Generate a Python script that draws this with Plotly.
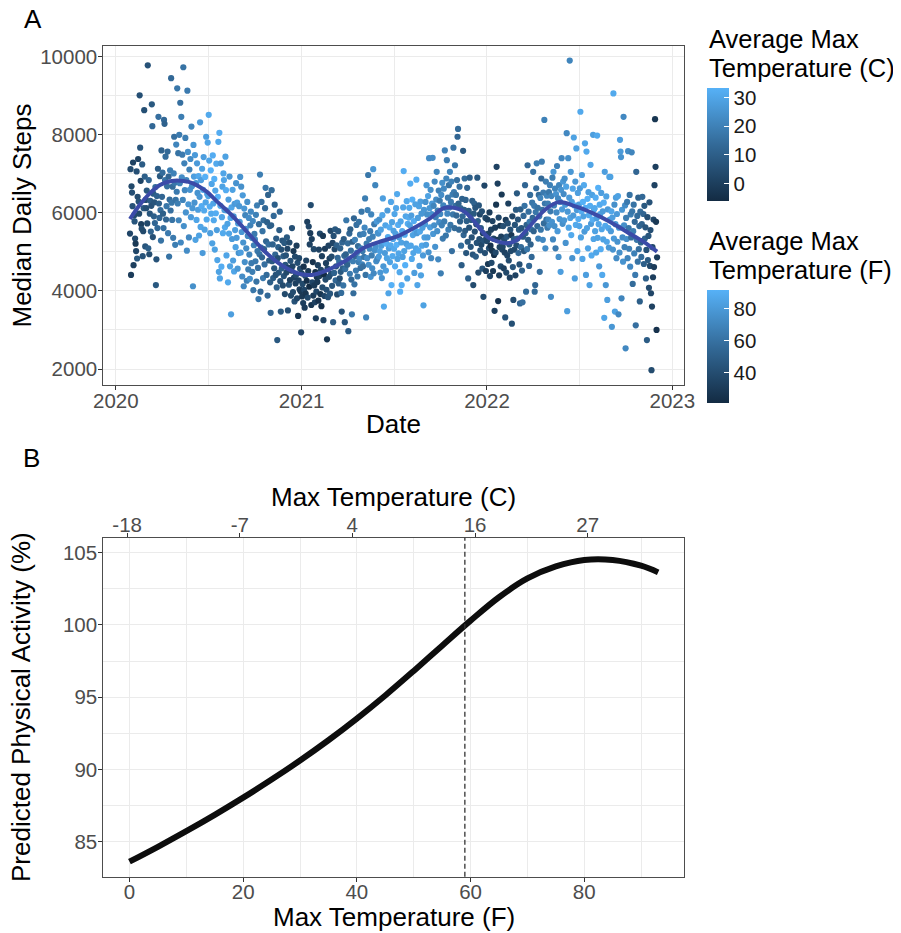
import pandas as pd
import plotly.graph_objects as go

# ---------------- Panel A data: daily median steps (in tens of steps) and max temp (C) ----------------
segment_starts = ["2020-01-29", "2020-03-01", "2020-04-01", "2020-05-01", "2020-06-01", "2020-07-01",
                  "2020-08-01", "2020-09-01", "2020-10-01", "2020-11-01", "2020-12-01", "2021-01-01",
                  "2021-02-01", "2021-03-01", "2021-04-01", "2021-05-01", "2021-06-01", "2021-07-01",
                  "2021-08-01", "2021-09-01", "2021-10-01", "2021-11-01", "2021-12-01", "2022-01-01",
                  "2022-02-01", "2022-03-01", "2022-04-01", "2022-05-01", "2022-06-01", "2022-07-01",
                  "2022-08-01", "2022-09-01", "2022-10-01", "2022-11-01"]

steps_tens = [
    "547 712 441 668 652 617 729 466 593 578 534 521 502 706 483 641 738 629 598 901 767 682 571 559 724 489 553 612 863 693 514 633",
    "612 657 573 978 509 684 494 598 631 552 618 878 822 538 649 591 627 574 666 415 481 643 561 713 846 624 587 694 607 529 760",
    "641 703 598 561 838 828 684 744 583 617 668 757 548 693 488 634 709 606 945 626 582 667 536 701 795 677 518 633 775 654",
    "919 624 753 581 800 676 882 524 846 691 749 633 973 566 727 658 792 601 684 503 913 756 622 537 711 659 738 589 821 668 612",
    "412 774 693 626 748 531 676 582 727 651 608 694 542 641 832 564 684 617 713 497 659 743 606 557 692 627 795 583 648 780",
    "643 851 734 616 548 709 598 674 522 747 624 581 687 506 657 599 726 556 479 641 782 449 805 432 618 727 462 589 667 548 701",
    "684 607 563 744 658 491 606 572 422 634 547 693 463 587 340 614 533 659 478 591 450 623 556 512 676 536 626 457 573 497 617",
    "577 692 498 667 551 437 645 524 412 611 474 594 559 509 426 628 541 455 587 493 431 568 603 471 536 449 579 402 517 546",
    "532 476 595 424 619 502 459 379 571 494 698 398 511 628 486 553 433 581 507 468 612 664 527 441 576 388 646 519 478 566 422",
    "344 568 658 476 519 433 592 458 621 493 441 534 409 274 484 512 447 556 603 425 347 506 458 529 414 489 438 523 392 467",
    "491 447 537 508 350 459 416 524 428 477 388 452 561 463 397 502 434 373 488 419 441 516 381 472 336 427 484 404 457 399 294",
    "445 386 418 369 462 403 357 439 393 478 426 577 383 451 565 411 519 548 620 364 533 422 474 388 507 414 371 448 330 398 435",
    "423 466 375 506 438 547 392 454 361 489 409 541 325 442 387 508 429 471 403 276 457 384 516 436 483 393 554 444",
    "488 413 523 320 541 446 507 558 427 463 517 391 485 553 419 474 432 509 449 395 347 524 458 414 533 490 320 456 494 581 471",
    "467 522 297 481 547 444 558 503 429 340 526 476 394 586 417 531 489 452 569 498 437 515 474 577 483 544 459 509 603 468",
    "502 463 546 487 562 637 441 332 521 484 607 697 467 533 508 553 436 596 491 458 539 712 445 571 504 671 513 476 578 482 549",
    "547 488 583 502 447 557 516 433 594 637 463 360 524 497 568 452 521 484 606 538 394 509 563 474 517 628 415 576 489 533",
    "554 508 597 463 546 612 518 648 482 569 496 537 448 398 578 524 415 553 487 614 707 502 544 466 591 521 630 432 572 514 588",
    "613 568 675 516 593 482 634 543 497 579 446 557 622 509 685 548 415 587 503 617 464 552 629 440 598 516 562 491 363 608 537",
    "571 628 518 671 596 537 643 499 740 612 563 659 484 597 624 741 546 618 568 680 513 589 634 705 553 606 481 657 576 631",
    "597 445 646 568 677 534 619 662 578 760 613 542 688 735 598 639 557 671 614 705 569 628 680 502 647 596 767 653 561 722 618",
    "646 593 684 795 815 624 557 667 578 612 516 466 636 591 759 543 608 688 554 633 497 579 664 526 432 605 562 690 594 513",
    "582 537 631 493 415 598 624 552 613 488 571 523 690 579 447 619 533 596 504 561 518 604 457 548 385 529 670 497 587 451 536",
    "528 583 469 547 509 601 438 516 557 472 503 579 451 534 492 349 562 498 621 718 531 675 374 588 440 512 567 463 539 647 506",
    "513 566 458 531 498 332 582 447 539 491 573 624 478 519 434 557 502 543 316 591 461 377 533 506 569 440 608 517",
    "650 534 583 497 557 468 368 609 512 561 452 371 539 592 502 618 671 548 398 569 507 722 531 603 464 577 646 519 558 487 626",
    "587 705 553 618 398 415 602 663 727 566 613 534 646 591 449 638 557 688 731 608 531 652 573 838 624 509 680 583 644 562",
    "624 583 653 568 671 604 385 643 577 690 532 705 619 566 662 509 648 601 720 553 637 487 671 584 628 449 659 740 609 572 680",
    "648 581 688 621 523 667 804 348 603 740 562 639 990 587 705 543 628 484 662 593 793 619 432 680 569 765 607 502 651 584",
    "621 566 663 859 537 604 697 482 628 591 671 552 778 613 441 757 561 636 509 653 594 415 618 723 572 491 646 583 800 533 609",
    "612 553 639 498 586 798 536 664 571 463 621 597 507 651 558 441 604 532 626 331 705 567 415 642 526 377 609 561 511 692 583",
    "692 553 604 308 588 506 906 534 621 347 571 639 484 597 526 643 340 562 498 787 757 743 381 608 537 475 846 568 512 619",
    "253 587 533 628 484 758 561 508 646 462 596 537 755 604 418 553 621 496 577 441 312 705 531 592 475 639 507 566 373 603 524",
    "487 571 641 528 597 469 618 534 563 432 505 274 589 479 541 408 627 464 556 394 197 360 512 435 583 461 671 840 718 577 300 486",
]

temps_c = [
    "2 4 -1 3 5 6 1 0 4 7 3 -2 2 5 8 4 1 6 3 5 7 2 0 4 9 6 3 8 5 10 7 4",
    "5 8 3 6 10 12 4 7 9 11 6 8 13 5 9 10 7 12 14 8 6 11 13 9 15 10 12 8 14 16 11",
    "12 14 10 15 13 11 16 14 12 17 15 13 18 12 16 14 19 15 13 17 16 14 18 20 15 17 19 16 21 18",
    "17 19 16 21 18 20 15 22 19 23 18 21 16 24 20 22 19 25 21 23 18 24 26 22 20 25 23 27 21 24 26",
    "24 26 28 25 27 29 26 30 27 25 28 31 29 26 27 30 28 32 29 27 30 28 31 29 33 30 28 31 29 30",
    "29 31 30 32 28 33 31 30 29 32 30 31 33 29 30 32 31 28 30 33 31 29 32 30 31 28 32 30 29 31 30",
    "30 28 31 29 32 30 27 29 31 28 30 26 29 31 28 30 27 29 28 26 30 27 28 29 25 27 28 26 27 25 26",
    "27 25 28 24 26 23 27 25 22 26 24 21 25 23 20 24 22 19 23 21 24 20 22 18 21 19 22 17 20 18",
    "21 18 20 16 19 17 15 18 14 16 19 13 17 15 12 16 18 14 11 15 13 17 12 14 10 13 11 15 9 12 10",
    "12 10 14 8 11 9 13 7 10 12 6 9 11 8 5 10 7 9 12 6 8 5 10 7 4 9 6 8 3 7",
    "6 3 8 2 5 1 7 4 0 6 3 -1 5 2 4 -2 1 6 3 0 4 -1 2 5 -3 1 3 0 4 -2 2",
    "1 -2 3 0 -4 2 -1 4 -3 1 -5 0 3 -2 2 -6 1 -1 4 -3 0 2 -4 -1 3 -2 1 -5 0 2 -3",
    "-2 0 -4 1 -1 3 -3 2 -5 0 4 -2 1 -6 2 -1 3 0 5 -3 2 6 1 4 0 7 3 5",
    "4 7 2 9 5 11 3 8 12 6 10 4 13 7 9 15 5 11 8 14 6 12 10 16 9 13 7 15 11 17 12",
    "11 14 9 16 12 18 10 15 13 17 11 19 14 12 16 20 13 18 15 21 17 14 19 16 22 18 15 20 17 21",
    "18 15 20 17 22 19 16 21 18 23 20 17 24 19 22 18 25 21 19 23 20 26 22 18 24 21 25 23 27 22 24",
    "25 27 24 28 26 29 27 25 30 28 26 31 29 27 30 28 32 29 27 31 30 28 32 29 31 30 33 29 31 30",
    "29 31 30 32 28 30 33 31 29 32 30 28 31 33 30 29 32 31 28 30 32 29 31 33 30 28 31 29 32 30 31",
    "31 29 32 30 28 31 33 29 30 32 28 31 29 30 32 27 30 28 31 29 27 30 28 29 26 30 28 27 29 26 28",
    "27 25 28 26 24 27 29 25 23 26 28 24 22 25 27 23 26 21 24 22 25 20 23 21 24 19 22 20 23 18",
    "22 19 23 20 24 18 21 22 19 20 23 17 21 19 22 18 20 16 19 21 17 18 20 15 19 17 16 18 14 17 15",
    "16 13 15 12 14 11 13 15 10 12 14 9 11 13 8 12 10 14 9 11 7 10 12 8 11 9 6 10 8 7",
    "9 6 10 7 4 8 11 5 7 9 3 6 8 10 4 7 5 2 6 8 3 5 7 1 4 6 2 5 3 0 4",
    "3 0 -2 1 4 -1 2 -4 0 3 -3 1 -2 2 -5 0 -1 3 -3 1 -2 0 -4 2 -1 1 -3 3 0 -2 2",
    "2 5 0 4 1 6 -1 3 7 2 5 0 4 8 1 6 3 -2 5 2 7 4 9 3 6 1 8 5",
    "8 11 6 13 9 5 12 10 14 7 11 15 9 13 8 16 12 10 14 11 17 13 9 15 12 18 14 11 16 13 17",
    "13 16 11 18 14 12 17 15 19 13 16 20 14 18 15 21 17 13 19 16 22 18 14 20 17 23 19 16 21 18",
    "19 22 17 24 20 18 23 21 25 19 22 26 20 24 21 18 25 23 20 27 22 24 21 26 23 28 25 22 27 24 26",
    "23 26 24 27 25 29 22 28 26 24 30 27 21 29 26 31 28 25 30 27 29 32 28 26 31 29 27 30 28 32",
    "28 30 27 31 29 32 28 30 33 29 31 27 30 32 28 31 29 33 30 28 31 29 32 30 27 31 29 32 28 30 29",
    "31 29 32 30 28 31 29 33 30 27 31 29 32 28 30 31 27 29 32 30 28 31 26 29 30 28 27 30 26 29 27",
    "29 27 30 26 28 25 31 27 24 29 26 28 23 27 25 29 22 26 24 28 27 25 21 26 23 25 22 24 20 23",
    "22 19 24 18 21 23 17 20 16 22 19 15 21 17 14 19 16 20 13 18 15 12 17 14 16 11 15 13 10 14 12",
    "14 11 13 9 12 10 8 11 7 10 6 9 5 8 7 4 6 3 5 2 4 1 3 0 2 -1 1 -3 0 -2 -4 -1",
]

# Smoothed trend
smooth_dates = ["2020-01-29", "2020-02-17", "2020-03-08", "2020-03-28", "2020-04-20", "2020-05-13",
                "2020-06-01", "2020-06-28", "2020-07-16", "2020-08-16", "2020-09-18", "2020-10-21",
                "2020-11-22", "2020-12-25", "2021-01-21", "2021-02-22", "2021-03-31", "2021-05-02",
                "2021-06-04", "2021-07-07", "2021-08-09", "2021-09-11", "2021-10-10", "2021-11-12",
                "2021-12-02", "2021-12-15", "2022-01-04", "2022-01-23", "2022-02-09", "2022-03-01",
                "2022-03-17", "2022-04-06", "2022-04-25", "2022-05-22", "2022-06-26", "2022-07-29",
                "2022-08-31", "2022-10-03", "2022-11-05", "2022-12-02"]
smooth_steps = [5843, 6200, 6500, 6714, 6816, 6816, 6757, 6543, 6320, 5945, 5477, 5005,
                4664, 4451, 4408, 4540, 4793, 5093, 5262, 5390, 5604, 5860, 6130, 6073,
                5860, 5646, 5364, 5262, 5220, 5305, 5518, 5817, 6073, 6275, 6158, 5988,
                5774, 5518, 5262, 5005]

year_ticks = ["2020-01-01", "2021-01-01", "2022-01-01", "2023-01-01"]
year_labels = ["2020", "2021", "2022", "2023"]
steps_ticks = [2000, 4000, 6000, 8000, 10000]
steps_labels = ["2000", "4000", "6000", "8000", "10000"]

# ---------------- Panel B data ----------------
temp_f = [0, 5, 10, 15, 20, 25, 30, 35, 40, 45, 50, 55, 60, 65, 70, 75, 80, 85, 90, 93]
pred_pct = [83.62, 84.65, 85.73, 86.86, 88.05, 89.30, 90.62, 92.02, 93.52, 95.12, 96.82, 98.57,
            100.3, 101.92, 103.22, 104.05, 104.5, 104.5, 104.1, 103.64]
ref_temp_f = 59
f_ticks = [0, 20, 40, 60, 80]
c_ticks = [-18, -7, 4, 16, 27]
pct_ticks = [85, 90, 95, 100, 105]

# ---------------- build daily series ----------------
dates, steps, temps = [], [], []
for start, s, t in zip(segment_starts, steps_tens, temps_c):
    sv = [int(v) * 10 for v in s.split()]
    tv = [float(v) for v in t.split()]
    n = min(len(sv), len(tv))
    dates += list(pd.date_range(start, periods=n, freq="D"))
    steps += sv[:n]
    temps += tv[:n]
temps_f = [c * 9 / 5 + 32 for c in temps]

W, H = 901, 933
OFF = 8  # the page body margin shifts the figure by 8 px
FONT = "Liberation Sans, Arial, sans-serif"
GRID = "#EBEBEB"
BORDER = "#4D4D4D"
TICKC = "#4D4D4D"
scale = [[0.0, "#132B43"], [0.5, "#336A98"], [1.0, "#56B1F7"]]


def px_x(p):
    return (p - OFF) / W


def px_y(p):
    return 1 - (p - OFF) / H


fig = go.Figure()

cb_common = dict(thickness=22, lenmode="pixels", len=113, x=px_x(706.7), xanchor="left",
                 yanchor="top", xpad=0, ypad=0, outlinewidth=0, ticks="inside", ticklen=5,
                 tickcolor="white", tickwidth=1,
                 tickfont=dict(size=20.5, color="#1A1A1A", family=FONT))

fig.add_trace(go.Scatter(
    x=dates, y=steps, mode="markers", xaxis="x", yaxis="y",
    marker=dict(size=6.2, color=temps, colorscale=scale, cmin=-6.3, cmax=33.3,
                line=dict(width=0), showscale=True,
                colorbar=dict(**cb_common, y=px_y(88.3), tickvals=[0, 10, 20, 30])),
    showlegend=False, hoverinfo="skip"))

fig.add_trace(go.Scatter(
    x=dates, y=steps, mode="markers", xaxis="x", yaxis="y",
    marker=dict(size=6.2, color=temps_f, colorscale=scale, cmin=20.7, cmax=91.9,
                opacity=0, showscale=True,
                colorbar=dict(**cb_common, y=px_y(290), tickvals=[40, 60, 80])),
    showlegend=False, hoverinfo="skip"))

fig.add_trace(go.Scatter(
    x=smooth_dates, y=smooth_steps, mode="lines", xaxis="x", yaxis="y",
    line=dict(color="#3B4BA8", width=4, shape="spline", smoothing=1.0),
    showlegend=False, hoverinfo="skip"))

fig.add_trace(go.Scatter(
    x=temp_f, y=pred_pct, mode="lines", xaxis="x2", yaxis="y2",
    line=dict(color="#0D0D0D", width=6, shape="spline"),
    showlegend=False, hoverinfo="skip"))

fig.add_trace(go.Scatter(
    x=temp_f, y=pred_pct, mode="lines", xaxis="x3", yaxis="y2",
    line=dict(color="rgba(0,0,0,0)", width=1),
    showlegend=False, hoverinfo="skip"))

dom_x = [px_x(103.3), px_x(684.3)]
axis_common = dict(showline=True, linecolor=BORDER, linewidth=1, mirror=True, automargin=False,
                   ticks="outside", ticklen=4, tickcolor="#333333", tickwidth=1,
                   tickfont=dict(size=20.5, color=TICKC, family=FONT),
                   showgrid=True, gridcolor=GRID, gridwidth=1.2, zeroline=False)

fig.update_layout(
    width=W, height=H, autosize=False,
    margin=dict(l=0, r=0, t=0, b=0, autoexpand=False),
    paper_bgcolor="white", plot_bgcolor="white",
    font=dict(family=FONT, color="#000000"),
    xaxis=dict(**axis_common, domain=dom_x, anchor="y", type="date",
               range=["2019-12-07 10:00", "2023-01-24 15:00"],
               tickvals=year_ticks, ticktext=year_labels, ticklabelstandoff=-7,
               minor=dict(tickvals=["2020-07-02", "2021-07-02", "2022-07-02"], showgrid=True,
                          gridcolor=GRID, gridwidth=0.6, ticks="")),
    yaxis=dict(**axis_common, domain=[px_y(385), px_y(45.7)], anchor="x",
               range=[1590, 10282], tickvals=steps_ticks, ticktext=steps_labels,
               ticklabelstandoff=-3,
               minor=dict(tickvals=[3000, 5000, 7000, 9000], showgrid=True,
                          gridcolor=GRID, gridwidth=0.6, ticks="")),
    xaxis2=dict(**axis_common, domain=dom_x, anchor="y2", range=[-4.6, 97.6],
                tickvals=f_ticks, ticktext=[str(v) for v in f_ticks], ticklabelstandoff=-7,
                minor=dict(tickvals=[10, 30, 50, 70, 90], showgrid=True,
                           gridcolor=GRID, gridwidth=0.6, ticks="")),
    yaxis2=dict(**axis_common, domain=[px_y(876.7), px_y(537.7)], anchor="x2",
                range=[82.58, 106.04], tickvals=pct_ticks, ticktext=[str(v) for v in pct_ticks],
                ticklabelstandoff=-3,
                minor=dict(tickvals=[87.5, 92.5, 97.5, 102.5], showgrid=True,
                           gridcolor=GRID, gridwidth=0.6, ticks="")),
    xaxis3=dict(overlaying="x2", anchor="y2", side="top", range=[-4.6, 97.6], automargin=False,
                tickvals=[c * 9 / 5 + 32 for c in c_ticks], ticktext=[str(c) for c in c_ticks],
                ticks="outside", ticklen=4, tickcolor="#333333", tickwidth=1, ticklabelstandoff=-7,
                tickfont=dict(size=20.5, color=TICKC, family=FONT),
                showgrid=False, showline=False, zeroline=False),
)

fig.add_shape(type="line", xref="x2", yref="y2 domain", x0=ref_temp_f, x1=ref_temp_f, y0=0, y1=1,
              line=dict(color="#333333", width=1.3, dash="5px,3px"))


def ann(text, x, y, size=26, angle=0, xanchor="center", yanchor="middle"):
    fig.add_annotation(text=text, x=px_x(x), y=px_y(y), xref="paper", yref="paper",
                       showarrow=False, textangle=angle, xanchor=xanchor, yanchor=yanchor,
                       font=dict(size=size, color="#000000", family=FONT))


ann("A", 22, 19, xanchor="left")
ann("B", 21, 458, xanchor="left")
ann("Median Daily Steps", 21, 215.5, angle=-90)
ann("Date", 393.8, 424)
ann("Predicted Physical Activity (%)", 21, 707, angle=-90)
ann("Max Temperature (F)", 393.8, 917)
ann("Max Temperature (C)", 393.8, 497)
ann("Average Max", 707, 39, size=25.5, xanchor="left")
ann("Temperature (C)", 707, 68, size=25.5, xanchor="left")
ann("Average Max", 707, 241, size=25.5, xanchor="left")
ann("Temperature (F)", 707, 270, size=25.5, xanchor="left")

fig.write_html("out.html")
